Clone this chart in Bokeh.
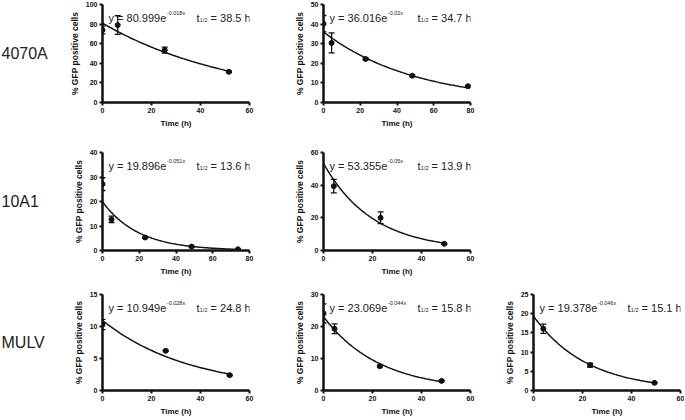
import numpy as np
from bokeh.plotting import figure
from bokeh.layouts import row, column
from bokeh.models import Range1d, FixedTicker, Whisker, TeeHead, ColumnDataSource
from bokeh.core.properties import value
from bokeh.embed import file_html
from bokeh.resources import INLINE

# ---------------- data ----------------
row_names = ["4070A", "10A1", "MULV"]

# 4070A, left panel
a_time = [0, 6.2, 25.4, 51.6]
a_gfp = [74.0, 79.0, 53.5, 31.3]
a_err = [4.0, 9.5, 3.0, 0.8]
a_fit = [80.999, 0.018, "38.5"]
a_xticks = [0, 20, 40, 60]
a_yticks = [0, 20, 40, 60, 80, 100]

# 4070A, right panel
b_time = [0, 4.4, 22.9, 48.3, 78.7]
b_gfp = [40.2, 30.4, 22.2, 13.7, 8.3]
b_err = [4.2, 5.1, 0.5, 0.5, 0.5]
b_fit = [36.016, 0.02, "34.7"]
b_xticks = [0, 20, 40, 60, 80]
b_yticks = [0, 10, 20, 30, 40, 50]

# 10A1, left panel
c_time = [0, 4.9, 23.2, 48.5, 73.7]
c_gfp = [27.1, 12.7, 5.3, 1.6, 0.5]
c_err = [2.6, 1.3, 0.3, 0.2, 0.1]
c_fit = [19.896, 0.051, "13.6"]
c_xticks = [0, 20, 40, 60, 80]
c_yticks = [0, 10, 20, 30, 40]

# 10A1, right panel
d_time = [4.2, 23.3, 49.3]
d_gfp = [39.4, 20.0, 4.1]
d_err = [4.1, 3.6, 0.3]
d_fit = [53.355, 0.05, "13.9"]
d_xticks = [0, 20, 40, 60]
d_yticks = [0, 20, 40, 60]

# MULV, left panel
e_time = [0, 25.8, 51.9]
e_gfp = [10.3, 6.2, 2.4]
e_err = [0.8, 0.1, 0.1]
e_fit = [10.949, 0.028, "24.8"]
e_xticks = [0, 20, 40, 60]
e_yticks = [0, 5, 10, 15]

# MULV, middle panel
f_time = [0, 4.5, 23.0, 48.2]
f_gfp = [24.1, 19.3, 7.6, 3.0]
f_err = [3.0, 1.5, 0.3, 0.2]
f_fit = [23.069, 0.044, "15.8"]
f_xticks = [0, 20, 40, 60]
f_yticks = [0, 10, 20, 30]

# MULV, right panel
g_time = [4.0, 23.1, 49.4]
g_gfp = [16.1, 6.6, 2.0]
g_err = [1.2, 0.5, 0.1]
g_fit = [19.378, 0.046, "15.1"]
g_xticks = [0, 20, 40, 60]
g_yticks = [0, 5, 10, 15, 20, 25]

# ---------------- style ----------------
FONT = "Liberation Sans"
INK = "#111111"
FW = 147
ARIAL = {' ': 0.278, '=': 0.584, 'y': 0.5, 'e': 0.556, '.': 0.278, '-': 0.333,
         'x': 0.5, 't': 0.278, '/': 0.278, 'h': 0.556}


def tw(s, size):
    return sum(ARIAL.get(ch, 0.556) for ch in s) * size


def style_axis(ax):
    ax.axis_line_width = 2.5
    ax.axis_line_color = INK
    ax.major_tick_line_width = 2
    ax.major_tick_line_color = INK
    ax.major_tick_out = 3
    ax.major_tick_in = 0
    ax.minor_tick_line_color = None
    ax.major_label_text_font = FONT
    ax.major_label_text_font_style = "bold"
    ax.major_label_text_font_size = "7px"
    ax.major_label_text_color = INK
    ax.major_label_standoff = 2
    ax.axis_label_text_font = FONT
    ax.axis_label_text_font_style = "bold"
    ax.axis_label_text_color = INK
    ax.axis_label_standoff = 3


def panel(t, g, e, fit, xticks, yticks, left, right, top, fh, bottom):
    amp, rate, half = fit
    p = figure(width=left + FW + right, height=top + fh + bottom,
               x_range=Range1d(0, xticks[-1]), y_range=Range1d(0, yticks[-1]),
               min_border_left=left, min_border_right=right,
               min_border_top=top, min_border_bottom=bottom,
               output_backend="svg", toolbar_location=None)
    p.xgrid.visible = False
    p.ygrid.visible = False
    p.outline_line_color = None
    p.xaxis.ticker = FixedTicker(ticks=xticks)
    p.yaxis.ticker = FixedTicker(ticks=yticks)
    p.xaxis.axis_label = "Time (h)"
    p.yaxis.axis_label = "% GFP positive cells"
    style_axis(p.xaxis[0])
    style_axis(p.yaxis[0])
    p.xaxis.axis_label_text_font_size = "8px"
    p.yaxis.axis_label_text_font_size = "8.5px"

    xs = np.linspace(0, t[-1], 120)
    p.line(xs, amp * np.exp(-rate * xs), line_width=1.5, color=INK)

    src = ColumnDataSource(dict(t=t, g=g,
                                lo=[gv - ev for gv, ev in zip(g, e)],
                                hi=[gv + ev for gv, ev in zip(g, e)]))
    p.add_layout(Whisker(source=src, base="t", upper="hi", lower="lo",
                         dimension="height", line_width=1.3, line_color=INK,
                         upper_head=TeeHead(size=6, line_width=1.3, line_color=INK),
                         lower_head=TeeHead(size=6, line_width=1.3, line_color=INK)))
    p.scatter("t", "g", source=src, size=5, color=INK)

    ytop = yticks[-1]
    main = f"y = {amp}e"
    sup = f"-{rate}x"
    x0 = 6
    base = 13
    common = dict(text_font=value(FONT), text_color="#222222",
                  text_baseline="alphabetic", text_align="left")
    p.text(x=[0], y=[ytop], text=[main], x_offset=x0, y_offset=base,
           text_font_size="11px", **common)
    p.text(x=[0], y=[ytop], text=[sup], x_offset=x0 + tw(main, 11) + 0.5,
           y_offset=base - 5, text_font_size="5.5px", **common)
    tx = 94
    p.text(x=[0], y=[ytop], text=["t"], x_offset=tx, y_offset=base,
           text_font_size="11px", **common)
    sx = tx + tw("t", 11) + 0.3
    p.text(x=[0], y=[ytop], text=["1/2"], x_offset=sx, y_offset=base + 2,
           text_font_size="5.5px", **common)
    p.text(x=[0], y=[ytop], text=[f"= {half} h"],
           x_offset=sx + tw("1/2", 5.5) + tw(" ", 11),
           y_offset=base, text_font_size="11px", **common)
    return p


def label_fig(name, w, top, fh, bottom):
    p = figure(width=w, height=top + fh + bottom,
               x_range=Range1d(0, 1), y_range=Range1d(0, 1),
               x_axis_type=None, y_axis_type=None,
               min_border_left=0, min_border_right=0,
               min_border_top=top, min_border_bottom=bottom,
               output_backend="svg", toolbar_location=None)
    p.xgrid.visible = False
    p.ygrid.visible = False
    p.outline_line_color = None
    p.text(x=[0], y=[0.5], text=[name], text_font=value(FONT),
           text_font_size="16px", text_color="#222222",
           text_baseline="middle", text_align="left", x_offset=1)
    return p


LW = 62
# (top border, frame height, bottom border) per row
r1 = (4, 98, 38)
r2 = (12, 98, 34)
r3 = (10, 97, 27)

row1 = row(label_fig(row_names[0], LW, *r1),
           panel(a_time, a_gfp, a_err, a_fit, a_xticks, a_yticks, 40, 34, *r1),
           panel(b_time, b_gfp, b_err, b_fit, b_xticks, b_yticks, 40, 23, *r1))
row2 = row(label_fig(row_names[1], LW, *r2),
           panel(c_time, c_gfp, c_err, c_fit, c_xticks, c_yticks, 40, 34, *r2),
           panel(d_time, d_gfp, d_err, d_fit, d_xticks, d_yticks, 40, 23, *r2))
row3 = row(label_fig(row_names[2], LW, *r3),
           panel(e_time, e_gfp, e_err, e_fit, e_xticks, e_yticks, 40, 34, *r3),
           panel(f_time, f_gfp, f_err, f_fit, f_xticks, f_yticks, 40, 23, *r3),
           panel(g_time, g_gfp, g_err, g_fit, g_xticks, g_yticks, 40, 4, *r3))

layout = column(row1, row2, row3)

open("out.html", "w").write(file_html(layout, INLINE))
